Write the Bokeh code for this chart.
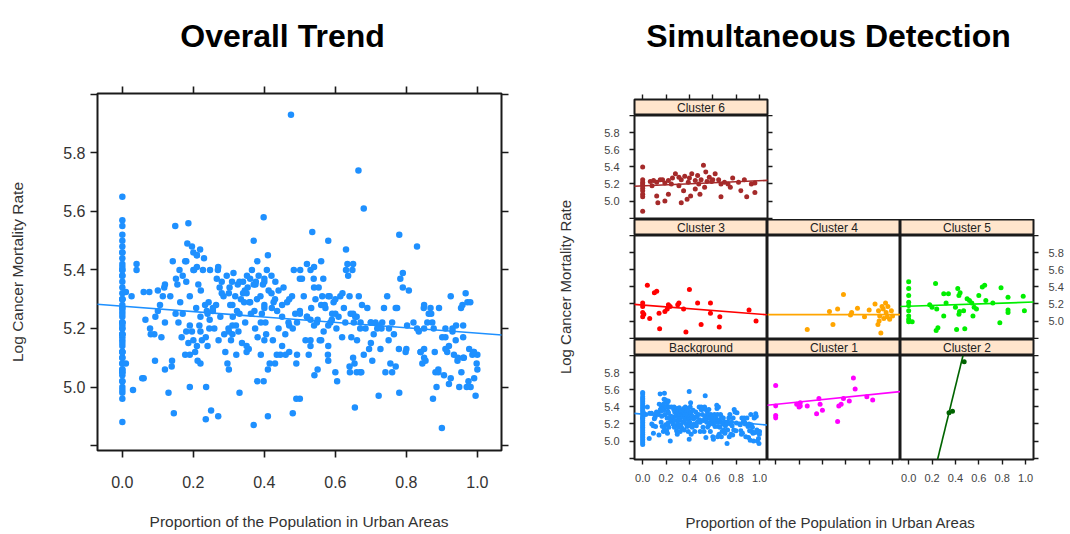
import math
from bokeh.plotting import figure
from bokeh.layouts import row, column
from bokeh.models import (Label, FixedTicker, LinearAxis, CustomJSTickFormatter,
                          Range1d, Slope, Spacer)
from bokeh.embed import file_html
from bokeh.resources import INLINE

FONT = "Liberation Sans"

# ---------------- axes / ticks ----------------
X_RANGE = (-0.07, 1.068)
Y_RANGE = (4.783, 6.003)
X_TICKS = [0.0, 0.2, 0.4, 0.6, 0.8, 1.0]
Y_TICKS = [4.8, 5.0, 5.2, 5.4, 5.6, 5.8, 6.0]

# ---------------- data (proportion urban, log cancer mortality) ----------------
bg_x = [0.0, 0.0, 0.0, 0.0, 0.0, 0.0, 0.0, 0.0, 0.0, 0.0, 0.0, 0.0, 0.0, 0.0, 0.0, 0.0,
        0.0, 0.0, 0.0, 0.0, 0.0, 0.0, 0.0, 0.0, 0.0, 0.0, 0.0, 0.0, 0.0, 0.0, 0.0, 0.0,
        0.01, 0.026, 0.04, 0.056, 0.06, 0.076, 0.09, 0.078, 0.092, 0.10, 0.106, 0.114, 0.11, 0.118,
        0.135, 0.142, 0.139, 0.149, 0.151, 0.155, 0.158, 0.161, 0.163, 0.167, 0.17, 0.177, 0.177,
        0.18, 0.183, 0.186, 0.186, 0.19, 0.196, 0.196, 0.2, 0.202, 0.205, 0.208, 0.21, 0.212,
        0.214, 0.217, 0.219, 0.221, 0.224, 0.227, 0.233, 0.236, 0.238, 0.24, 0.243, 0.246, 0.247,
        0.255, 0.259, 0.264, 0.266, 0.269, 0.271, 0.274, 0.276, 0.28, 0.285, 0.287, 0.29, 0.294,
        0.296, 0.299, 0.302, 0.304, 0.306, 0.309, 0.311, 0.313, 0.318, 0.321, 0.323, 0.325, 0.327,
        0.33, 0.334, 0.337, 0.34, 0.343, 0.346, 0.351, 0.353, 0.356, 0.358, 0.36, 0.362, 0.365,
        0.37, 0.372, 0.374, 0.376, 0.379, 0.381, 0.384, 0.389, 0.39, 0.393, 0.396, 0.398, 0.398,
        0.40, 0.403, 0.405, 0.407, 0.41, 0.412, 0.415, 0.421, 0.424, 0.426, 0.431, 0.436, 0.44,
        0.445, 0.45, 0.454, 0.459, 0.464, 0.468, 0.478, 0.483, 0.487, 0.492, 0.50,
        0.492, 0.501, 0.506, 0.511, 0.516, 0.52, 0.525, 0.53, 0.532, 0.535, 0.539, 0.541, 0.544,
        0.548, 0.553, 0.556, 0.56, 0.563, 0.566, 0.567, 0.572, 0.579, 0.584, 0.586, 0.591, 0.595,
        0.6, 0.603, 0.605, 0.609, 0.614, 0.619, 0.624, 0.628, 0.634, 0.636, 0.64, 0.641, 0.643,
        0.645, 0.648, 0.652, 0.654, 0.656, 0.661, 0.666, 0.671, 0.673, 0.675, 0.68, 0.685, 0.69,
        0.695, 0.70, 0.704, 0.708, 0.713, 0.718, 0.722, 0.727, 0.732, 0.737, 0.741, 0.746, 0.751,
        0.755, 0.76, 0.765, 0.77, 0.774, 0.779, 0.783, 0.79, 0.798, 0.802, 0.807, 0.83, 0.835,
        0.84, 0.845, 0.849, 0.854, 0.859, 0.863, 0.868, 0.873, 0.877, 0.882, 0.892, 0.901, 0.906,
        0.91, 0.915, 0.92, 0.925, 0.93, 0.934, 0.939, 0.944, 0.949, 0.954, 0.958, 0.962, 0.967,
        0.972, 0.977, 0.981, 0.986, 0.991, 0.995, 0.998, 1.0]
bg_y = [5.57, 5.55, 5.52, 5.50, 5.48, 5.46, 5.44, 5.42, 5.40, 5.38, 5.36, 5.34, 5.32, 5.30, 5.28, 5.27,
        5.26, 5.24, 5.22, 5.20, 5.18, 5.16, 5.14, 5.12, 5.10, 5.08, 5.06, 5.04, 5.02, 5.00, 4.98, 4.96,
        5.325, 5.31, 5.40, 5.03, 5.325, 5.325, 5.18, 5.20, 5.09, 5.26, 5.28, 5.31, 5.17, 5.34,
        5.31, 5.43, 5.07, 5.55, 5.37, 5.35, 5.22, 5.40, 5.29, 5.17, 5.38, 5.43, 5.11,
        5.36, 5.49, 5.56, 5.15, 5.31, 5.48, 5.19, 5.46, 5.40, 5.12, 5.27, 5.45, 5.09,
        5.35, 5.21, 5.47, 5.33, 5.16, 5.40, 5.28, 5.00, 5.26, 5.25, 5.29, 5.23, 5.40,
        5.26, 5.20, 5.28, 5.37, 5.40, 5.16, 5.34, 5.24, 5.36, 5.31, 5.18, 5.12, 5.38,
        5.08, 5.20, 5.34, 5.28, 5.16, 5.36, 5.24, 5.39, 5.31, 5.11, 5.26, 5.35, 5.19,
        5.36, 5.30, 5.15, 5.36, 5.29, 5.22, 5.38, 5.34, 5.13, 5.29, 5.37, 5.25, 5.40,
        5.35, 5.26, 5.20, 5.36, 5.30, 5.17, 5.38, 5.31, 5.11, 5.25, 5.35, 5.58, 5.02,
        5.28, 5.22, 5.18, 5.40, 5.45, 5.33, 5.08, 5.27, 5.16, 5.29, 5.36, 5.26, 5.20,
        5.11, 5.28, 5.34, 5.18, 5.29, 5.22, 5.31, 5.40, 5.25, 5.11, 5.37,
        5.22, 5.40, 5.37, 5.31, 5.16, 5.24, 5.11, 5.40, 5.27, 5.53, 5.37, 5.04, 5.30,
        5.22, 5.34, 5.16, 5.28, 5.31, 5.37, 5.19, 5.27, 5.11, 5.31, 5.22, 5.25, 5.29,
        5.05, 5.20, 5.02, 5.24, 5.31, 5.17, 5.27, 5.22, 5.42, 5.38, 5.31, 5.05, 5.25,
        5.17, 5.40, 5.22, 5.08, 5.24, 5.16, 5.31, 5.22, 5.05, 5.28, 5.11, 5.20, 5.27,
        5.13, 5.22, 5.09, 5.18, 5.22, 5.20, 4.97, 5.13, 5.22, 5.27, 5.05, 5.31, 5.20,
        5.08, 5.22, 5.18, 5.07, 5.27, 5.13, 5.37, 5.34, 5.12, 5.21, 5.33, 5.20, 5.19,
        5.12, 5.08, 5.27, 5.09, 5.22, 5.25, 5.27, 5.22, 5.20, 5.05, 5.27, 5.17, 5.04,
        5.20, 5.12, 5.01, 5.31, 5.19, 5.11, 5.16, 5.09, 5.00, 5.27, 5.28, 5.10, 5.32,
        5.29, 5.13, 5.00, 5.11, 5.03, 4.97, 5.08, 5.11]

c1_x = [0.0, 0.0, 0.0, 0.0, 0.18, 0.20, 0.21, 0.21, 0.27, 0.35, 0.37, 0.38, 0.40, 0.53, 0.54,
        0.56, 0.58, 0.63, 0.665, 0.68, 0.78, 0.83]
c1_y = [5.65, 5.41, 5.30, 5.27, 5.43, 5.40, 5.45, 5.41, 5.41, 5.32, 5.50, 5.43, 5.36, 5.23, 5.41,
        5.43, 5.50, 5.47, 5.74, 5.61, 5.52, 5.48]

c2_x = [0.345, 0.375, 0.475]
c2_y = [5.33, 5.35, 5.93]

c3_x = [0.0, 0.0, 0.0, 0.0, 0.01, 0.04, 0.06, 0.10, 0.12, 0.14, 0.145, 0.19, 0.21, 0.22, 0.235,
        0.30, 0.31, 0.35, 0.37, 0.40, 0.47, 0.50, 0.58, 0.58, 0.66, 0.655, 0.91, 0.97]
c3_y = [5.21, 5.17, 5.10, 5.05, 5.08, 5.42, 5.03, 5.33, 5.35, 5.09, 4.91, 5.11, 5.14, 5.19, 5.17,
        5.19, 5.21, 5.14, 4.87, 5.37, 5.21, 4.96, 5.21, 5.09, 5.05, 4.93, 5.13, 5.00]

c4_x = [0.27, 0.46, 0.53, 0.49, 0.58, 0.64, 0.65, 0.70, 0.76, 0.80, 0.85, 0.88, 0.89, 0.90,
        0.875, 0.885, 0.92, 0.94, 0.945, 0.96, 0.975, 0.99, 1.0, 0.925, 0.91, 0.955]
c4_y = [4.90, 5.11, 5.14, 4.96, 5.31, 5.07, 5.10, 5.15, 5.05, 5.13, 5.20, 5.12, 5.06, 4.86,
        4.96, 5.00, 5.14, 5.21, 5.10, 5.17, 5.02, 5.12, 5.06, 5.03, 5.17, 5.05]

c5_x = [0.0, 0.0, 0.0, 0.0, 0.0, 0.0, 0.0, 0.0, 0.0, 0.03, 0.18, 0.20, 0.24, 0.23, 0.25, 0.235,
        0.30, 0.34, 0.30, 0.32, 0.40, 0.42, 0.43, 0.44, 0.41, 0.48, 0.435, 0.43, 0.47, 0.50,
        0.52, 0.54, 0.55, 0.58, 0.60, 0.63, 0.65, 0.66, 0.72, 0.78, 0.79, 0.85, 0.85, 0.85,
        0.98, 0.99, 0.56]
c5_y = [5.46, 5.38, 5.30, 5.22, 5.18, 5.12, 5.06, 5.02, 4.99, 4.99, 5.19, 5.16, 5.14, 5.44, 4.92,
        4.89, 5.32, 5.32, 5.06, 5.21, 5.16, 5.38, 5.30, 5.33, 4.90, 4.91, 5.11, 5.08, 5.12, 5.26,
        5.24, 5.21, 5.06, 5.14, 5.30, 5.40, 5.42, 5.24, 5.21, 4.98, 5.39, 5.28, 5.13, 5.10,
        5.29, 5.12, 5.16]

c6_x = [0.0, 0.0, 0.0, 0.0, 0.0, 0.0, 0.0, 0.0, 0.0, 0.0,
        0.093, 0.12, 0.15, 0.19, 0.22, 0.255, 0.28, 0.31, 0.33, 0.36, 0.40, 0.42, 0.45, 0.47,
        0.50, 0.52, 0.54, 0.57, 0.59, 0.62, 0.65, 0.67, 0.70, 0.77, 0.82, 0.87, 0.93, 0.96,
        0.12, 0.13, 0.19, 0.22, 0.33, 0.38, 0.41, 0.49, 0.35, 0.67, 0.84, 0.89, 0.96, 0.75,
        0.45, 0.53, 0.31, 0.08,
        0.065, 0.17, 0.245, 0.39, 0.48, 0.55, 0.60, 0.73]
c6_y = [5.40, 5.25, 5.22, 5.20, 5.18, 5.15, 5.12, 5.08, 5.05, 4.88,
        5.24, 5.22, 5.25, 5.21, 5.24, 5.27, 5.32, 5.28, 5.25, 5.29, 5.27, 5.32, 5.24, 5.30,
        5.25, 5.42, 5.34, 5.28, 5.23, 5.32, 5.25, 5.20, 5.22, 5.27, 5.22, 5.25, 5.20, 5.21,
        5.06, 4.98, 5.00, 5.08, 4.98, 5.02, 5.06, 5.08, 5.12, 5.05, 5.12, 5.05, 5.10, 5.16,
        5.14, 5.16, 5.18, 5.18,
        5.23, 5.25, 5.20, 5.22, 5.20, 5.23, 5.25, 5.20]

panel_names = ["Background", "Cluster 1", "Cluster 2", "Cluster 3", "Cluster 4", "Cluster 5", "Cluster 6"]
panel_x = [bg_x, c1_x, c2_x, c3_x, c4_x, c5_x, c6_x]
panel_y = [bg_y, c1_y, c2_y, c3_y, c4_y, c5_y, c6_y]
panel_colors = ["#1E90FF", "#FF00FF", "#006400", "#FF0000", "#FFA500", "#00EE00", "#A52A2A"]
fit_intercepts = [5.315, 5.43, 3.40, 5.187, 5.075, 5.173, 5.177]
fit_slopes = [-0.12, 0.14, 5.6, -0.107, 0.0, 0.046, 0.061]
overall_intercept = 5.276
overall_slope = -0.092

all_x = [v for xs in panel_x for v in xs]
all_y = [v for ys in panel_y for v in ys]

X_FMT = "return tick.toFixed(1);"
Y_FMT = "return (tick < 4.9 || tick > 5.9) ? '' : tick.toFixed(1);"
EMPTY = "return '';"
INK = "#1a1a1a"


def base_fig(w, h, L, R, T, B, xr, yr):
    f = figure(width=w, height=h, x_range=Range1d(*xr), y_range=Range1d(*yr),
               toolbar_location=None, output_backend="svg",
               x_axis_location=None, y_axis_location=None,
               min_border_left=L, min_border_right=R, min_border_top=T, min_border_bottom=B)
    f.xgrid.visible = False
    f.ygrid.visible = False
    f.outline_line_color = None
    f.background_fill_color = "white"
    f.border_fill_color = "white"
    return f


def add_axis(f, side, ticks, fmt, tick_len, size, standoff, color, tw=1.4):
    ax = LinearAxis(ticker=FixedTicker(ticks=ticks))
    ax.axis_line_color = None
    ax.major_tick_in = 0
    ax.major_tick_out = tick_len
    ax.major_tick_line_color = INK
    ax.major_tick_line_width = tw
    ax.minor_tick_line_color = None
    if fmt is None:
        ax.formatter = CustomJSTickFormatter(code=EMPTY)
        ax.major_label_text_font_size = "1px"
        ax.major_label_standoff = 0
    else:
        ax.formatter = CustomJSTickFormatter(code=fmt)
        ax.major_label_text_font = FONT
        ax.major_label_text_font_size = size
        ax.major_label_text_color = color
        ax.major_label_standoff = standoff
    f.add_layout(ax, side)
    return ax


def title_label(x, y, text):
    return Label(x=x, y=y, x_units="screen", y_units="screen", text=text,
                 text_align="center", text_baseline="alphabetic", text_font=FONT,
                 text_font_size="32px", text_font_style="bold", text_color="black")


TOTAL_H = 532

# ---------------- left: overall trend ----------------
LEFT_W = 540
LT_H = 60
P_LEFT = 97
left_title = base_fig(LEFT_W, LT_H, 0, 0, 0, 0, (0, 1), (0, 1))
# the title strip's frame is aligned with the plot frame below it
left_title.add_layout(title_label(282 - P_LEFT, LT_H - 35, "Overall Trend"))

p = base_fig(LEFT_W, TOTAL_H - LT_H, P_LEFT, 39, 33, TOTAL_H - LT_H - 33 - 359, X_RANGE, Y_RANGE)
p.outline_line_color = INK
p.outline_line_width = 2
p.scatter(all_x, all_y, size=6.5, fill_color="#1E90FF", line_color=None)
p.add_layout(Slope(gradient=overall_slope, y_intercept=overall_intercept,
                   line_color="#1E90FF", line_width=1.6))
axb = add_axis(p, "below", X_TICKS, X_FMT, 7, "16px", 18, "#333333", 1.6)
axb.axis_label = "Proportion of the Population in Urban Areas"
axb.axis_label_text_font = FONT
axb.axis_label_text_font_size = "15.5px"
axb.axis_label_text_font_style = "normal"
axb.axis_label_text_color = "#333333"
axb.axis_label_standoff = 22
axl = add_axis(p, "left", Y_TICKS, Y_FMT, 7, "16px", 5, "#333333", 1.6)
axl.axis_label = "Log Cancer Mortality Rate"
axl.axis_label_text_font = FONT
axl.axis_label_text_font_size = "15.5px"
axl.axis_label_text_font_style = "normal"
axl.axis_label_text_color = "#333333"
axl.axis_label_standoff = 34
add_axis(p, "above", X_TICKS, None, 7, None, 0, None, 1.6)
add_axis(p, "right", Y_TICKS, None, 7, None, 0, None, 1.6)

left = column(left_title, p)

# ---------------- right: simultaneous detection (trellis) ----------------
FW = 133       # panel frame width
PH = 104       # panel frame height
SH = 16        # strip height
L1 = 54
R3 = 35
MID_W = 488
YLAB_W = 40
RT_H = 92
XLAB_H = TOTAL_H - RT_H - (7 + SH + PH) - (SH + PH) - (SH + PH + 38)


def make_strip(name, L, R, T, top_ticks):
    f = base_fig(L + FW + R, SH + T, L, R, T, 0, X_RANGE, (0, 1))
    f.background_fill_color = "#FFE5CC"
    f.outline_line_color = INK
    f.outline_line_width = 2
    if top_ticks:
        add_axis(f, "above", X_TICKS, None, 5, None, 0, None)
    f.add_layout(Label(x=(X_RANGE[0] + X_RANGE[1]) / 2, y=0.5, text=name,
                       text_align="center", text_baseline="middle", text_font=FONT,
                       text_font_size="12px", text_color="#222222"))
    return f


def make_panel(i, L, R, B, left, right, bottom):
    f = base_fig(L + FW + R, PH + B, L, R, 0, B, X_RANGE, Y_RANGE)
    f.outline_line_color = INK
    f.outline_line_width = 2
    col = panel_colors[i]
    f.scatter(panel_x[i], panel_y[i], size=5, fill_color=col, line_color=None)
    f.add_layout(Slope(gradient=fit_slopes[i], y_intercept=fit_intercepts[i],
                       line_color=col, line_width=1.6))
    if left is not None:
        add_axis(f, "left", Y_TICKS, Y_FMT if left == "labels" else None, 5, "11px", 10, "#444444")
    if right is not None:
        add_axis(f, "right", Y_TICKS, Y_FMT if right == "labels" else None, 5, "11px", 10, "#444444")
    if bottom is not None:
        add_axis(f, "below", X_TICKS, X_FMT if bottom == "labels" else None, 5, "11px", 9, "#444444")
    return f


idx = {n: k for k, n in enumerate(panel_names)}

title_fig = base_fig(MID_W, RT_H, 0, 0, 0, 0, (0, 1), (0, 1))
title_fig.add_layout(title_label(248, RT_H - 35, "Simultaneous Detection"))

row1 = row(
    column(make_strip("Cluster 6", L1, 8, 7, True),
           make_panel(idx["Cluster 6"], L1, 8, 0, "labels", "ticks", None)),
    Spacer(width=MID_W - (L1 + FW + 8), height=7 + SH + PH),
)
row2 = row(
    column(make_strip("Cluster 3", L1, 0, 0, False),
           make_panel(idx["Cluster 3"], L1, 0, 0, "ticks", None, None)),
    column(make_strip("Cluster 4", 0, 0, 0, False),
           make_panel(idx["Cluster 4"], 0, 0, 0, None, None, None)),
    column(make_strip("Cluster 5", 0, R3, 0, False),
           make_panel(idx["Cluster 5"], 0, R3, 0, None, "labels", None)),
)
row3 = row(
    column(make_strip("Background", L1, 0, 0, False),
           make_panel(idx["Background"], L1, 0, 38, "labels", None, "labels")),
    column(make_strip("Cluster 1", 0, 0, 0, False),
           make_panel(idx["Cluster 1"], 0, 0, 38, None, None, "ticks")),
    column(make_strip("Cluster 2", 0, R3, 0, False),
           make_panel(idx["Cluster 2"], 0, R3, 38, None, "ticks", "labels")),
)

xlab_fig = base_fig(MID_W, XLAB_H, 0, 0, 0, 0, (0, 1), (0, 1))
xlab_fig.add_layout(Label(x=250, y=XLAB_H - 25, x_units="screen", y_units="screen",
                          text="Proportion of the Population in Urban Areas",
                          text_align="center", text_baseline="middle", text_font=FONT,
                          text_font_size="15px", text_color="#333333"))

ylab_fig = base_fig(YLAB_W, TOTAL_H, 0, 0, 0, 0, (0, 1), (0, 1))
ylab_fig.add_layout(Label(x=25, y=TOTAL_H - 286.5, x_units="screen", y_units="screen",
                          text="Log Cancer Mortality Rate", angle=math.pi / 2,
                          text_align="center", text_baseline="middle", text_font=FONT,
                          text_font_size="15px", text_color="#333333"))

right = row(ylab_fig, column(title_fig, row1, row2, row3, xlab_fig))
layout = row(left, right)

open("out.html", "w").write(file_html(layout, INLINE))
